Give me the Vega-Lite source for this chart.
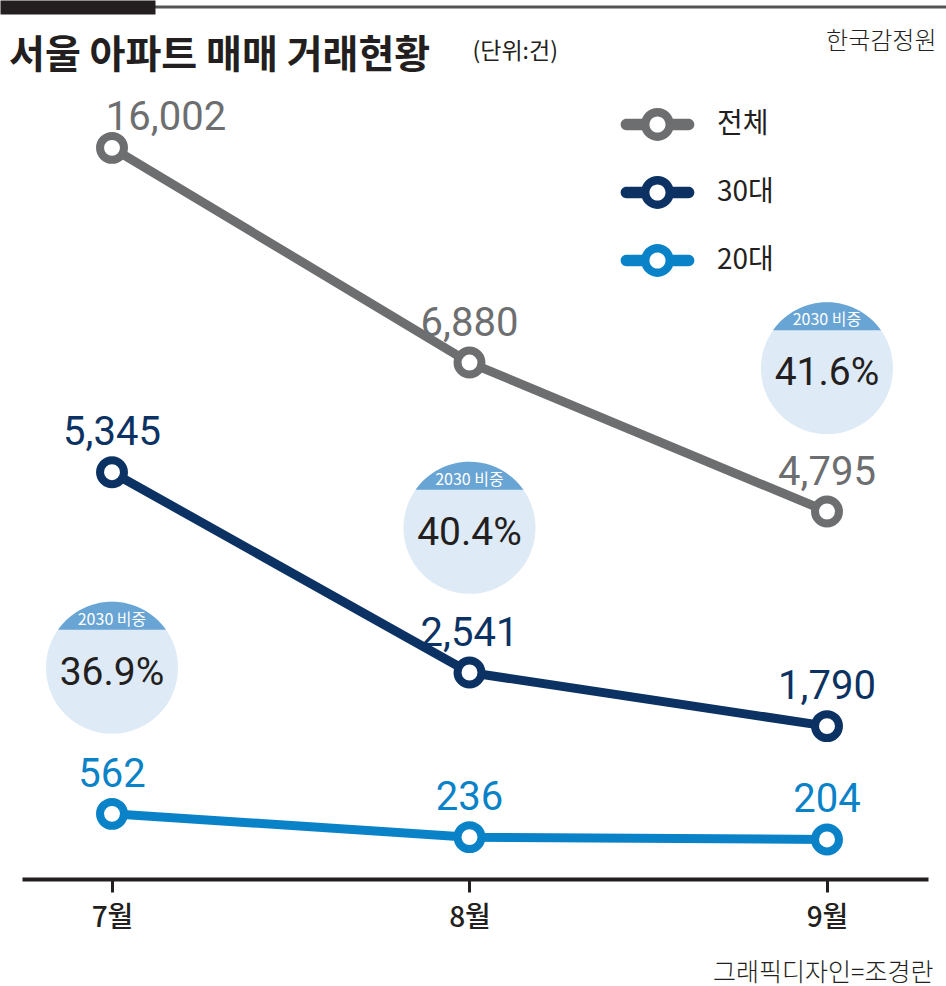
{
  "$schema": "https://vega.github.io/schema/vega-lite/v6.json",
  "width": 946,
  "height": 872,
  "autosize": {"type": "none"},
  "padding": {"top": 7, "left": 0, "right": 0, "bottom": 107},
  "background": "white",
  "title": {
    "text": "서울 아파트 매매 거래현황",
    "anchor": "start",
    "frame": "group",
    "font": "Noto Sans CJK KR",
    "fontSize": 39,
    "fontWeight": "bold",
    "color": "#231f20",
    "dx": 9,
    "dy": 100,
    "baseline": "alphabetic",
    "offset": 0
  },
  "config": {
    "view": {"stroke": "#555555", "strokeWidth": 3, "strokeDash": [0, 155, 791, 4000]},
    "font": "Noto Sans CJK KR"
  },
  "datasets": {
    "trade": [
      {"month": 7, "series": "전체", "count": 16002},
      {"month": 8, "series": "전체", "count": 6880},
      {"month": 9, "series": "전체", "count": 4795},
      {"month": 7, "series": "30대", "count": 5345},
      {"month": 8, "series": "30대", "count": 2541},
      {"month": 9, "series": "30대", "count": 1790},
      {"month": 7, "series": "20대", "count": 562},
      {"month": 8, "series": "20대", "count": 236},
      {"month": 9, "series": "20대", "count": 204}
    ],
    "share": [
      {"month": 7, "ratio": 0.369},
      {"month": 8, "ratio": 0.404},
      {"month": 9, "ratio": 0.416}
    ]
  },
  "resolve": {"scale": {"y": "independent"}, "axis": {"x": "independent", "y": "independent"}},
  "layer": [
    {
      "data": {"name": "share"},
      "encoding": {
        "x": {
          "field": "month", "type": "quantitative",
          "scale": {"domain": [6.6867, 9.3329], "nice": false, "zero": false},
          "axis": {"orient": "top", "domain": true, "domainColor": "#231f20", "domainWidth": 14, "domainDash": [155, 3000], "ticks": false, "labels": false, "grid": false, "title": null, "offset": 0}
        },
        "y": {
          "field": "ratio", "type": "quantitative",
          "scale": {"domain": [0.35, 0.40, 0.42], "range": [714, 574, 308], "nice": false, "zero": false},
          "axis": {"orient": "right", "domain": false, "ticks": false, "labels": false, "grid": false,
            "title": "한국감정원", "titleAngle": 0, "titleAlign": "right", "titleBaseline": "alphabetic",
            "titleX": -10, "titleY": 41, "titleFont": "Noto Sans CJK KR", "titleFontSize": 24, "titleFontWeight": 300, "titleColor": "#231f20"}
        }
      },
      "layer": [
        {"mark": {"type": "point", "shape": "M-1,0A1,1,0,1,1,1,0A1,1,0,1,1,-1,0Z", "size": 17424, "filled": true, "fill": "#deeaf6", "opacity": 1, "strokeWidth": 0}},
        {"mark": {"type": "point", "shape": "M-0.817,-0.576A1,1,0,0,1,0.817,-0.576Z", "size": 17424, "filled": true, "fill": "#68a4d4", "opacity": 1, "strokeWidth": 0}},
        {"mark": {"type": "text", "text": "2030 비중", "dy": -43, "baseline": "alphabetic", "font": "Noto Sans CJK KR", "fontSize": 16, "fill": "white"}},
        {"mark": {"type": "text", "dy": 17, "baseline": "alphabetic", "font": "Roboto", "fontSize": 39, "fill": "#231f20"},
          "encoding": {"text": {"field": "ratio", "format": ".1%"}}}
      ]
    },
    {
      "data": {"name": "trade"},
      "encoding": {
        "x": {
          "field": "month", "type": "quantitative",
          "scale": {"domain": [6.6867, 9.3329], "nice": false, "zero": false},
          "axis": {"orient": "bottom", "values": [7, 8, 9], "labelExpr": "datum.value + '월'",
            "domainColor": "#231f20", "domainWidth": 4, "domainDash": [0, 22, 906, 3000],
            "tickColor": "#231f20", "tickWidth": 3, "tickSize": 13,
            "labelFont": "Noto Sans CJK KR", "labelFontSize": 28, "labelFontWeight": 500, "labelColor": "#231f20", "labelPadding": 12,
            "grid": false,
            "title": "그래픽디자인=조경란", "titleX": 933, "titleY": 101, "titleAlign": "right", "titleBaseline": "alphabetic",
            "titleFont": "Noto Sans CJK KR", "titleFontSize": 25, "titleFontWeight": 300, "titleColor": "#231f20"}
        },
        "y": {
          "field": "count", "type": "quantitative",
          "scale": {"domain": [0, 7000, 17000], "range": [847, 347, 118], "nice": false, "zero": false},
          "axis": {"orient": "left", "domain": false, "ticks": false, "labels": false, "grid": false,
            "title": "(단위:건)", "titleAngle": 0, "titleAlign": "left", "titleBaseline": "alphabetic",
            "titleX": 472, "titleY": 51, "titleFont": "Noto Sans CJK KR", "titleFontSize": 23, "titleFontWeight": 400, "titleColor": "#231f20"}
        }
      },
      "layer": [
        {"mark": {"type": "line", "strokeWidth": 9, "strokeCap": "round", "strokeJoin": "round"},
          "encoding": {"color": {
            "field": "series", "type": "nominal",
            "scale": {"domain": ["전체", "30대", "20대"], "range": ["#6d6e70", "#0b3262", "#0a82c8"]},
            "legend": {"title": null, "orient": "none", "legendX": 624, "legendY": 84,
              "symbolType": "M0.3,-0.17H0.93A0.17,0.17,0,0,1,0.93,0.17H0.3ZM-0.3,0.17H-0.93A0.17,0.17,0,0,1,-0.93,-0.17H-0.3ZM-0.49,0A0.49,0.49,0,1,1,0.49,0A0.49,0.49,0,1,1,-0.49,0ZM-0.24,0A0.24,0.24,0,1,0,0.24,0A0.24,0.24,0,1,0,-0.24,0Z",
              "symbolSize": 4489, "symbolStrokeWidth": 0, "symbolOpacity": 1,
              "labelFont": "Noto Sans CJK KR", "labelFontSize": 28, "labelColor": "#231f20", "labelOffset": 26,
              "rowPadding": 18, "padding": 0, "labelLimit": 200}
          }}},
        {"mark": {"type": "point", "shape": "circle", "size": 573, "strokeWidth": 8, "filled": false, "fill": "white", "opacity": 1},
          "encoding": {"color": {"field": "series", "type": "nominal", "legend": null}}},
        {"transform": [{"filter": "datum.count < 10000"}],
          "mark": {"type": "text", "dy": -27, "baseline": "alphabetic", "font": "Roboto", "fontSize": 40},
          "encoding": {"text": {"field": "count", "format": ","}, "color": {"field": "series", "type": "nominal", "legend": null}}},
        {"transform": [{"filter": "datum.count >= 10000"}],
          "mark": {"type": "text", "dx": 54, "dy": -18, "baseline": "alphabetic", "font": "Roboto", "fontSize": 40},
          "encoding": {"text": {"field": "count", "format": ","}, "color": {"field": "series", "type": "nominal", "legend": null}}}
      ]
    }
  ]
}
